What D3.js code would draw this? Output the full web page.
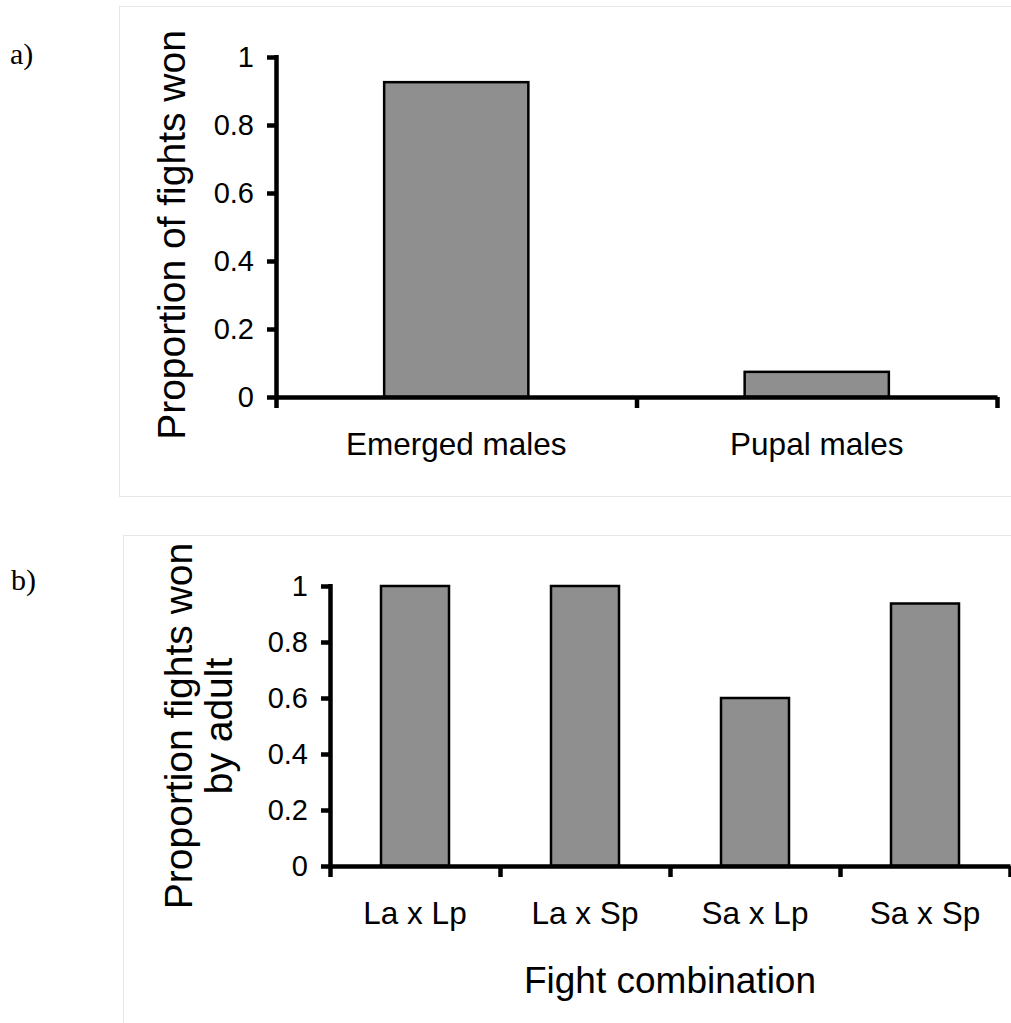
<!DOCTYPE html>
<html>
<head>
<meta charset="utf-8">
<script src="https://cdn.jsdelivr.net/npm/d3@7"></script>
<style>
	html, body { margin: 0; padding: 0; background: #fff; }
	svg { display: block; font-family: "Liberation Sans", Arial, sans-serif; }
</style>
</head>
<body>
<svg id="chart" width="1011" height="1023"></svg>
<script>
// Panel a data
const catsA = ["Emerged males", "Pupal males"];
const valsA = [0.926, 0.074];
// Panel b data
const catsB = ["La x Lp", "La x Sp", "Sa x Lp", "Sa x Sp"];
const valsB = [1.0, 1.0, 0.6, 0.9375];
// shared y ticks
const yTicks = [0, 0.2, 0.4, 0.6, 0.8, 1];

const barFill = "#8f8f8f";
const fmt = d3.format("~g");
const axisWidth = 4.5;

const svg = d3.select("#chart");

// panel frames
svg.append("rect")
	.attr("x", 119.5).attr("y", 6.5)
	.attr("width", 1000).attr("height", 490)
	.attr("fill", "none").attr("stroke", "#e6e6e6");
svg.append("rect")
	.attr("x", 123.5).attr("y", 535.5)
	.attr("width", 1000).attr("height", 600)
	.attr("fill", "none").attr("stroke", "#e6e6e6");

// panel letters
svg.append("text").attr("x", 10).attr("y", 64)
	.attr("font-family", "'Liberation Serif', 'Times New Roman', serif")
	.attr("font-size", 30).text("a)");
svg.append("text").attr("x", 11).attr("y", 590)
	.attr("font-family", "'Liberation Serif', 'Times New Roman', serif")
	.attr("font-size", 30).text("b)");

function drawPanel(opts) {
	const { cats, vals, left, right, top, bottom, titleLines, titleX, titleY, xTitle } = opts;
	const g = svg.append("g");

	const x = d3.scaleBand().domain(cats).range([left, right]).paddingInner(0).paddingOuter(0);
	const xEdge = d3.scaleLinear().domain([0, cats.length]).range([left, right]);
	const y = d3.scaleLinear().domain([0, 1]).range([bottom, top]);
	const bw = x.bandwidth() * 0.4;

	// bars
	g.selectAll(".bar")
		.data(vals)
		.join("rect")
		.attr("class", "bar")
		.attr("x", (d, i) => x(cats[i]) + (x.bandwidth() - bw) / 2)
		.attr("y", (d) => y(d))
		.attr("width", bw)
		.attr("height", (d) => y(0) - y(d))
		.attr("fill", barFill)
		.attr("stroke", "#000")
		.attr("stroke-width", 2.5);

	// y axis
	const yAxis = g.append("g")
		.attr("transform", `translate(${left},0)`)
		.call(d3.axisLeft(y).tickValues(yTicks).tickFormat(fmt).tickSize(9).tickSizeOuter(0).tickPadding(13));
	yAxis.select(".domain").attr("stroke-width", axisWidth).attr("d", `M0.5,${top - 2}V${bottom + 2}`);
	yAxis.selectAll(".tick line").attr("stroke-width", axisWidth);
	yAxis.selectAll(".tick text").attr("font-size", 29).attr("font-family", "Liberation Sans, Arial, sans-serif").attr("fill", "#000");

	// x axis (boundary ticks)
	const xAxis = g.append("g")
		.attr("transform", `translate(0,${bottom})`)
		.call(d3.axisBottom(xEdge).tickValues(d3.range(cats.length + 1)).tickFormat("").tickSize(11).tickSizeOuter(0));
	xAxis.select(".domain").attr("stroke-width", axisWidth);
	xAxis.selectAll(".tick line").attr("stroke-width", axisWidth);

	// category labels
	g.selectAll(".cat")
		.data(cats)
		.join("text")
		.attr("class", "cat")
		.attr("x", (d) => x(d) + x.bandwidth() / 2)
		.attr("y", bottom + 58)
		.attr("text-anchor", "middle")
		.attr("font-size", 31.5)
		.text((d) => d);

	// y title
	const t = g.append("text")
		.attr("transform", `translate(${titleX},${titleY}) rotate(-90)`)
		.attr("text-anchor", "middle")
		.attr("font-size", 39);
	titleLines.forEach((line, i) => {
		t.append("tspan")
			.attr("x", 0)
			.attr("y", (i - (titleLines.length - 1) / 2) * 40)
			.attr("dy", "0.33em")
			.text(line);
	});

	if (xTitle) {
		g.append("text")
			.attr("x", (left + right) / 2)
			.attr("y", bottom + 127)
			.attr("text-anchor", "middle")
			.attr("font-size", 37)
			.text(xTitle);
	}
}

drawPanel({
	cats: catsA, vals: valsA,
	left: 276, right: 997, top: 57, bottom: 397,
	titleLines: ["Proportion of fights won"], titleX: 172, titleY: 235
});

drawPanel({
	cats: catsB, vals: valsB,
	left: 330, right: 1010, top: 586, bottom: 866,
	titleLines: ["Proportion fights won", "by adult"], titleX: 199, titleY: 726,
	xTitle: "Fight combination"
});
</script>
</body>
</html>
